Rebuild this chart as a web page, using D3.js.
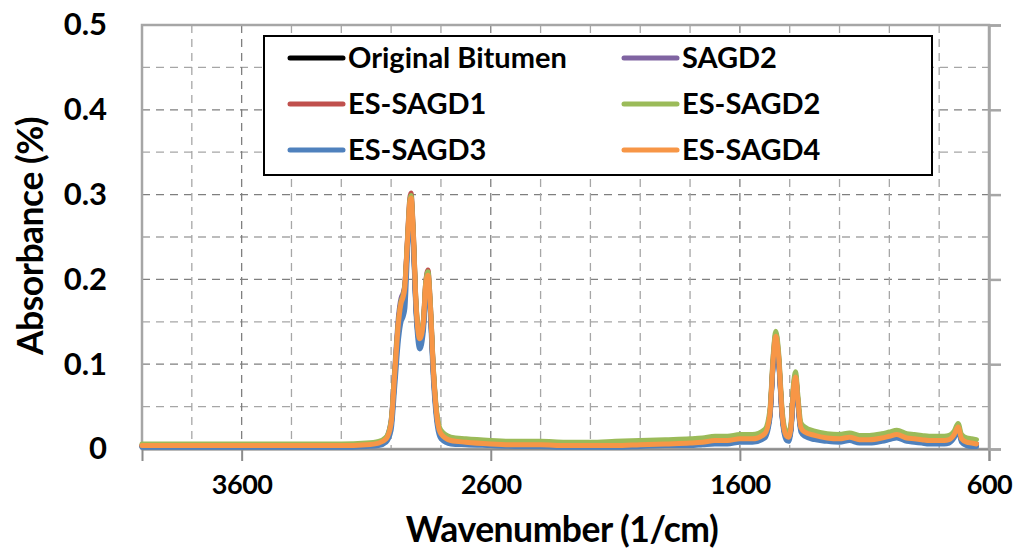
<!DOCTYPE html>
<html>
<head>
<meta charset="utf-8">
<script src="https://cdn.jsdelivr.net/npm/d3@7"></script>
<style>
  html, body { margin: 0; padding: 0; background: #fff; }
  svg { display: block; font-family: Lato, "Open Sans", sans-serif; }
</style>
</head>
<body>
<svg id="chart" width="1024" height="550"></svg>
<script>
// ---------------- DATA ----------------
const wavenumbers = [4000,3900,3800,3700,3600,3500,3400,3300,3200,3100,
  3050,3020,3000,2985,2970,2960,2953,2945,2935,2925,
  2920,2912,2900,2885,2870,2862,2852,2843,2830,2815,
  2800,2760,2700,2600,2500,2400,2300,2200,2100,2000,
  1900,1800,1750,1700,1650,1600,1550,1500,1480,1465,
  1456,1445,1430,1415,1405,1395,1385,1376,1368,1355,
  1340,1300,1250,1200,1160,1120,1080,1030,1000,970,
  930,900,870,840,810,780,760,740,724,710,
  690,670,650];

const originalBitumen = [0.003,0.003,0.003,0.003,0.003,0.003,0.003,0.003,0.003,0.004,
  0.006,0.011,0.028,0.087,0.146,0.168,0.174,0.186,0.236,0.286,
  0.292,0.255,0.165,0.126,0.146,0.186,0.201,0.166,0.087,0.033,
  0.016,0.009,0.007,0.005,0.004,0.004,0.003,0.003,0.003,0.004,
  0.005,0.006,0.007,0.009,0.009,0.011,0.011,0.016,0.038,0.107,
  0.13,0.107,0.038,0.014,0.012,0.023,0.068,0.083,0.058,0.023,
  0.018,0.014,0.011,0.01,0.012,0.009,0.009,0.011,0.013,0.015,
  0.011,0.01,0.009,0.008,0.008,0.008,0.009,0.015,0.024,0.01,
  0.006,0.005,0.005];

const sagd2 = [0.004,0.004,0.004,0.004,0.004,0.004,0.004,0.004,0.004,0.005,
  0.007,0.013,0.034,0.097,0.158,0.178,0.183,0.194,0.242,0.29,
  0.296,0.258,0.168,0.128,0.149,0.19,0.205,0.17,0.09,0.035,
  0.017,0.009,0.007,0.005,0.005,0.005,0.004,0.004,0.004,0.005,
  0.006,0.006,0.007,0.009,0.009,0.011,0.011,0.017,0.039,0.108,
  0.131,0.108,0.039,0.015,0.013,0.024,0.069,0.084,0.059,0.024,
  0.019,0.015,0.012,0.011,0.013,0.01,0.01,0.012,0.014,0.016,
  0.012,0.011,0.01,0.009,0.009,0.009,0.01,0.016,0.025,0.011,
  0.007,0.006,0.005];

const esSagd1 = [0.004,0.004,0.004,0.004,0.004,0.004,0.004,0.004,0.004,0.005,
  0.007,0.012,0.031,0.092,0.152,0.174,0.18,0.193,0.245,0.296,
  0.302,0.265,0.172,0.132,0.153,0.194,0.211,0.174,0.092,0.036,
  0.018,0.01,0.008,0.006,0.005,0.005,0.004,0.004,0.004,0.005,
  0.006,0.007,0.008,0.01,0.01,0.012,0.012,0.018,0.041,0.113,
  0.136,0.112,0.041,0.016,0.014,0.025,0.072,0.087,0.061,0.025,
  0.02,0.016,0.013,0.012,0.014,0.011,0.011,0.013,0.015,0.016,
  0.013,0.012,0.011,0.01,0.01,0.01,0.011,0.016,0.025,0.012,
  0.008,0.007,0.006];

const esSagd2 = [0.006,0.006,0.006,0.006,0.006,0.006,0.006,0.006,0.006,0.007,
  0.009,0.014,0.033,0.093,0.152,0.174,0.18,0.192,0.243,0.293,
  0.299,0.263,0.173,0.133,0.153,0.193,0.209,0.174,0.094,0.039,
  0.022,0.014,0.012,0.01,0.009,0.009,0.008,0.008,0.009,0.01,
  0.011,0.012,0.013,0.015,0.015,0.017,0.017,0.023,0.045,0.116,
  0.139,0.116,0.045,0.021,0.019,0.03,0.076,0.091,0.066,0.031,
  0.026,0.021,0.018,0.017,0.019,0.016,0.016,0.018,0.02,0.022,
  0.018,0.017,0.016,0.015,0.015,0.015,0.016,0.021,0.03,0.017,
  0.013,0.012,0.011];

const esSagd3 = [0.002,0.002,0.002,0.002,0.002,0.002,0.002,0.002,0.002,0.003,
  0.004,0.008,0.022,0.075,0.13,0.15,0.155,0.165,0.225,0.284,
  0.29,0.25,0.16,0.118,0.14,0.182,0.198,0.16,0.08,0.028,
  0.012,0.006,0.005,0.004,0.003,0.003,0.002,0.002,0.002,0.003,
  0.004,0.004,0.005,0.006,0.006,0.008,0.008,0.013,0.035,0.105,
  0.128,0.104,0.035,0.011,0.009,0.02,0.065,0.08,0.055,0.02,
  0.015,0.011,0.009,0.008,0.01,0.007,0.007,0.009,0.011,0.013,
  0.009,0.008,0.007,0.006,0.006,0.006,0.007,0.013,0.022,0.008,
  0.004,0.003,0.003];

const esSagd4 = [0.004,0.004,0.004,0.004,0.004,0.004,0.004,0.004,0.004,0.005,
  0.007,0.012,0.03,0.09,0.15,0.172,0.178,0.19,0.24,0.29,
  0.296,0.26,0.17,0.13,0.15,0.19,0.205,0.17,0.09,0.035,
  0.018,0.01,0.008,0.006,0.005,0.005,0.004,0.004,0.004,0.005,
  0.006,0.007,0.008,0.01,0.01,0.012,0.012,0.018,0.04,0.11,
  0.133,0.11,0.04,0.016,0.014,0.025,0.07,0.085,0.06,0.025,
  0.02,0.016,0.013,0.012,0.014,0.011,0.011,0.013,0.015,0.017,
  0.013,0.012,0.011,0.01,0.01,0.01,0.011,0.017,0.026,0.012,
  0.008,0.007,0.006];

const seriesNames = ["Original Bitumen","SAGD2","ES-SAGD1","ES-SAGD2","ES-SAGD3","ES-SAGD4"];
const seriesValues = [originalBitumen, sagd2, esSagd1, esSagd2, esSagd3, esSagd4];
const seriesColors = ["#000000","#8064A2","#C0504D","#9BBB59","#4F81BD","#F79646"];

const xTickValues = [3600, 2600, 1600, 600];
const yTickValues = [0, 0.1, 0.2, 0.3, 0.4, 0.5];
const xGridValues = [3800,3600,3400,3200,3000,2800,2600,2400,2200,2000,1800,1600,1400,1200,1000,800];
const yGridValues = [0.05,0.1,0.15,0.2,0.25,0.3,0.35,0.4,0.45];
const xTitle = "Wavenumber (1/cm)";
const yTitle = "Absorbance (%)";

// ---------------- LAYOUT ----------------
const svg = d3.select("#chart");
const L = 142, R = 989, T = 25, B = 449;
const x = d3.scaleLinear().domain([4000, 600]).range([L, R]);
const y = d3.scaleLinear().domain([0, 0.5]).range([B, T]);

// gridlines
const grid = svg.append("g");
grid.selectAll("line.hg").data(yGridValues).join("line")
  .attr("x1", L).attr("x2", R)
  .attr("y1", d => y(d)).attr("y2", d => y(d))
  .attr("stroke", d => (Math.round(d*100) % 10 === 0) ? "#7f7f7f" : "#a6a6a6")
  .attr("stroke-width", 1.3)
  .attr("stroke-dasharray", "8,6");
grid.selectAll("line.vg").data(xGridValues).join("line")
  .attr("y1", T).attr("y2", B)
  .attr("x1", d => x(d)).attr("x2", d => x(d))
  .attr("stroke", d => (xTickValues.includes(d)) ? "#7f7f7f" : "#a6a6a6")
  .attr("stroke-width", 1.3)
  .attr("stroke-dasharray", "8,6");

// frame
svg.append("rect").attr("x", L).attr("y", T).attr("width", R - L).attr("height", B - T)
  .attr("fill", "none").attr("stroke", "#a6a6a6").attr("stroke-width", 2.5);

// x axis (bottom) with ticks
const xAxis = d3.axisBottom(x).tickValues(xTickValues).tickSize(12).tickFormat(d3.format("d")).tickPadding(14);
const gx = svg.append("g").attr("transform", `translate(0,${B})`).call(xAxis);
gx.select(".domain").attr("stroke", "#8c8c8c").attr("stroke-width", 2);
gx.selectAll(".tick line").attr("stroke", "#8c8c8c").attr("stroke-width", 2);
gx.selectAll(".tick text").attr("fill", "#000").attr("font-size", 27)
  .attr("font-family", "Lato, sans-serif").attr("font-weight", "bold").style("letter-spacing", "-0.5px");

// right axis ticks (outside, no labels)
const yRight = d3.axisRight(y).tickValues(yTickValues).tickSize(12).tickFormat("");
const gr = svg.append("g").attr("transform", `translate(${R},0)`).call(yRight);
gr.select(".domain").attr("stroke", "#a6a6a6").attr("stroke-width", 2.5);
gr.selectAll(".tick line").attr("stroke", "#a6a6a6").attr("stroke-width", 2.5);

// left axis labels
const yLeft = d3.axisLeft(y).tickValues(yTickValues).tickSize(0).tickPadding(35)
  .tickFormat(d => d === 0 ? "0" : d3.format(".1f")(d));
const gl = svg.append("g").attr("transform", `translate(${L},0)`).call(yLeft);
gl.select(".domain").remove();
gl.selectAll(".tick text").attr("fill", "#000").attr("font-size", 31)
  .attr("font-family", "Lato, sans-serif").attr("font-weight", "bold");

// series lines
const line = d3.line()
  .x((d, i) => x(wavenumbers[i]))
  .y(d => y(d))
  .curve(d3.curveMonotoneX);
svg.append("g").selectAll("path").data(seriesValues).join("path")
  .attr("d", d => line(d))
  .attr("fill", "none")
  .attr("stroke", (d, i) => seriesColors[i])
  .attr("stroke-width", 5)
  .attr("stroke-linejoin", "round")
  .attr("stroke-linecap", "round");

// legend
const lg = svg.append("g");
lg.append("rect").attr("x", 264).attr("y", 36).attr("width", 668).attr("height", 139)
  .attr("fill", "#fff").attr("stroke", "#000").attr("stroke-width", 2);
const colX = [290, 624];
const rowY = [58, 104, 150];
seriesNames.forEach((name, i) => {
  const cx = colX[i % 2], cy = rowY[Math.floor(i / 2)];
  lg.append("line").attr("x1", cx).attr("x2", cx + 53).attr("y1", cy).attr("y2", cy)
    .attr("stroke", seriesColors[i]).attr("stroke-width", 5).attr("stroke-linecap", "round");
  lg.append("text").attr("x", cx + 58).attr("y", cy + 10)
    .attr("font-size", 29).attr("font-weight", "bold").attr("fill", "#000")
    .text(name);
});

// axis titles
svg.append("text").attr("x", 562).attr("y", 542).attr("text-anchor", "middle")
  .attr("font-size", 35.5).attr("font-weight", "bold").attr("fill", "#000")
  .style("letter-spacing", "-0.5px").text(xTitle);
svg.append("text").attr("transform", "translate(43,236) rotate(-90)").attr("text-anchor", "middle")
  .attr("font-size", 35.5).attr("font-weight", "bold").attr("fill", "#000")
  .style("letter-spacing", "-0.5px").text(yTitle);
</script>
</body>
</html>
